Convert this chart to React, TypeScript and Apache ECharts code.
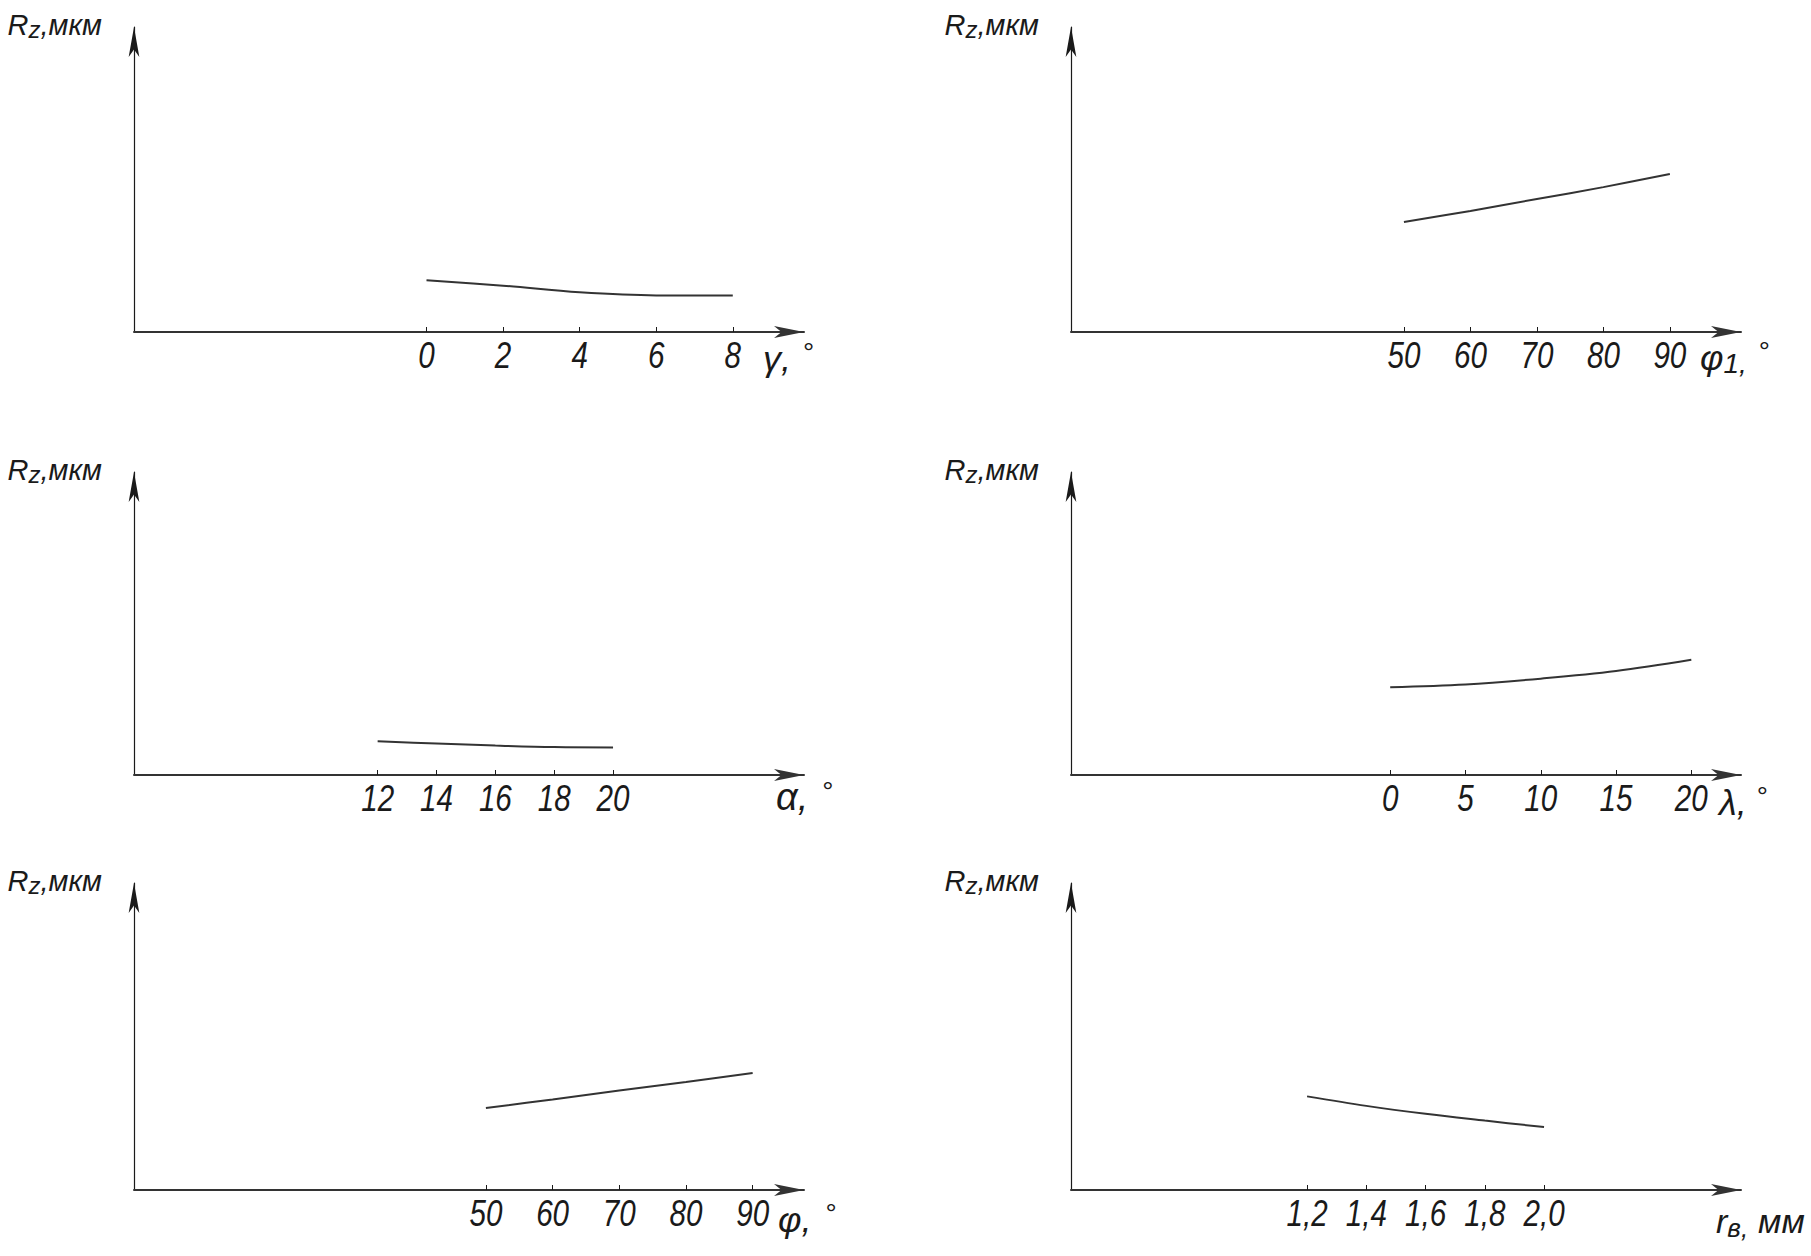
import React, { useEffect, useRef } from "react";
import * as echarts from "echarts";

// ---- data (Rz in relative units, axis top = 100) ----
const gammaTicks = [0, 2, 4, 6, 8];
const gammaRz = [17.0, 15.2, 13.0, 12.0, 12.0];
const phi1Ticks = [50, 60, 70, 80, 90];
const phi1Rz = [36.1, 39.7, 43.6, 47.5, 51.8];
const alphaTicks = [12, 14, 16, 18, 20];
const alphaRz = [11.1, 10.4, 9.7, 9.2, 9.1];
const lambdaTicks = [0, 5, 10, 15, 20];
const lambdaRz = [29.0, 29.9, 31.8, 34.3, 38.0];
const phiTicks = [50, 60, 70, 80, 90];
const phiRz = [26.7, 29.5, 32.4, 35.2, 38.1];
const rbTicks = [1.2, 1.4, 1.6, 1.8, 2.0];
const rbRz = [30.5, 27.4, 24.8, 22.6, 20.5];

// x-axis extents (value at the y axis, value at the arrow)
const gammaRange = [-7.64, 9.86];
const phi1Range = [-0.08, 100.7];
const alphaRange = [3.72, 26.49];
const lambdaRange = [-21.2, 23.3];
const phiRange = [-2.77, 97.7];
const rbRange = [0.403, 2.665];

const FONT = "'Liberation Sans', 'DejaVu Sans', sans-serif";
const INK = "#1a1a1a";
const LINE = "#333333";

const COLS = [134, 1071];
const ROWS = [
  { top: 27, h: 305 },
  { top: 472, h: 303 },
  { top: 883, h: 307 },
];
const GRID_W = 670;

const tok = (o: any) => ({ fontFamily: FONT, fontStyle: "italic", color: INK, ...o });
const deg = (lh: number, padLeft: number) => ({ fontFamily: FONT, fontSize: 28, lineHeight: lh, verticalAlign: "top", padding: [0, 0, 0, padLeft], color: INK });

const panels = [
  {
    col: 0, row: 0, ticks: gammaTicks, rz: gammaRz, range: gammaRange, dec: false,
    name: "{g|γ,}{d|°}", gap: -41, padTop: 6,
    rich: { g: tok({ fontSize: 36, lineHeight: 40 }), d: deg(22, 12) },
  },
  {
    col: 1, row: 0, ticks: phi1Ticks, rz: phi1Rz, range: phi1Range, dec: false,
    name: "{g|φ}{s|1,}{d|°}", gap: -41, padTop: 5,
    rich: { g: tok({ fontSize: 36, lineHeight: 40 }), s: tok({ fontSize: 28, lineHeight: 14, verticalAlign: "bottom" }), d: deg(24, 12) },
  },
  {
    col: 0, row: 1, ticks: alphaTicks, rz: alphaRz, range: alphaRange, dec: false,
    name: "{g|α,}{d|°}", gap: -28, padTop: 2,
    rich: { g: tok({ fontSize: 38, lineHeight: 40 }), d: deg(26, 14) },
  },
  {
    col: 1, row: 1, ticks: lambdaTicks, rz: lambdaRz, range: lambdaRange, dec: false,
    name: "{g|λ,}{d|°}", gap: -22, padTop: 7,
    rich: { g: tok({ fontSize: 36, lineHeight: 40 }), d: deg(27, 10) },
  },
  {
    col: 0, row: 2, ticks: phiTicks, rz: phiRz, range: phiRange, dec: false,
    name: "{g|φ,}{d|°}", gap: -26, padTop: 9,
    rich: { g: tok({ fontSize: 36, lineHeight: 40 }), d: deg(24, 14) },
  },
  {
    col: 1, row: 2, ticks: rbTicks, rz: rbRz, range: rbRange, dec: true,
    name: "{g|r}{s|в,}{m|мм}", gap: -25, padTop: 11,
    rich: { g: tok({ fontSize: 34, lineHeight: 40 }), s: tok({ fontSize: 26, lineHeight: 18, verticalAlign: "bottom" }), m: tok({ fontSize: 34, lineHeight: 40, padding: [0, 0, 0, 10] }) },
  },
];

const fmt = (v: number, dec: boolean) => (dec ? v.toFixed(1).replace(".", ",") : String(v));

function buildOption() {
  const grid: any[] = [];
  const xAxis: any[] = [];
  const yAxis: any[] = [];
  const series: any[] = [];
  panels.forEach((p, i) => {
    const r = ROWS[p.row];
    grid.push({ left: COLS[p.col], top: r.top, width: GRID_W, height: r.h, containLabel: false });
    xAxis.push({
      type: "value",
      gridIndex: i,
      min: p.range[0],
      max: p.range[1],
      splitLine: { show: false },
      axisLine: {
        show: true,
        onZero: false,
        symbol: ["none", "arrow"],
        symbolSize: [9, 30],
        lineStyle: { color: LINE, width: 2 },
      },
      axisTick: { show: true, inside: true, length: 5, customValues: p.ticks, lineStyle: { color: INK, width: 1 } },
      axisLabel: { show: false },
      name: p.name,
      nameLocation: "end",
      nameGap: p.gap,
      nameTextStyle: { align: "left", verticalAlign: "top", padding: [p.padTop, 0, 0, 0], rich: p.rich },
    });
    yAxis.push({
      type: "value",
      gridIndex: i,
      min: 0,
      max: 100,
      splitLine: { show: false },
      axisTick: { show: false },
      axisLabel: { show: false },
      axisLine: {
        show: true,
        onZero: false,
        symbol: ["none", "arrow"],
        symbolSize: [8, 30],
        lineStyle: { color: INK, width: 1.2 },
      },
      name: "{r|R}{z|z}{k|,мкм}",
      nameLocation: "end",
      nameGap: 2,
      nameTextStyle: {
        align: "right",
        verticalAlign: "middle",
        padding: [0, 32, 0, 0],
        rich: {
          r: { fontFamily: FONT, fontStyle: "italic", fontSize: 29, lineHeight: 32, color: INK },
          z: { fontFamily: FONT, fontStyle: "italic", fontSize: 24, lineHeight: 10, verticalAlign: "bottom", color: INK },
          k: { fontFamily: FONT, fontStyle: "italic", fontSize: 29, lineHeight: 32, color: INK },
        },
      },
    });
    series.push({
      type: "line",
      xAxisIndex: i,
      yAxisIndex: i,
      showSymbol: false,
      smooth: 0.35,
      lineStyle: { color: LINE, width: 2 },
      data: p.ticks.map((x, j) => [x, p.rz[j]]),
    });
  });
  return { animation: false, backgroundColor: "#ffffff", grid, xAxis, yAxis, series };
}

// tick labels: narrow italic digits placed through the axes' own scales
function buildTickLabels(chart: echarts.ECharts) {
  const g: any[] = [];
  panels.forEach((p, i) => {
    const y0 = chart.convertToPixel({ yAxisIndex: i }, 0) as number;
    p.ticks.forEach((t) => {
      const x = chart.convertToPixel({ xAxisIndex: i }, t) as number;
      g.push({
        type: "text",
        x,
        y: y0 + 5,
        scaleX: 0.8,
        silent: true,
        style: {
          text: fmt(t, p.dec),
          fontFamily: FONT,
          fontStyle: "italic",
          fontSize: 37,
          lineHeight: 36,
          fill: INK,
          align: "center",
          verticalAlign: "top",
        },
      });
    });
  });
  return g;
}

export default function App() {
  const ref = useRef<HTMLDivElement>(null);
  useEffect(() => {
    document.body.style.margin = "0";
    const chart = echarts.init(ref.current!, null, { renderer: "svg" });
    chart.setOption(buildOption() as any);
    chart.setOption({ graphic: buildTickLabels(chart) } as any);
    return () => chart.dispose();
  }, []);
  return <div ref={ref} style={{ position: "absolute", left: 0, top: 0, width: 1811, height: 1256, background: "#fff" }} />;
}
